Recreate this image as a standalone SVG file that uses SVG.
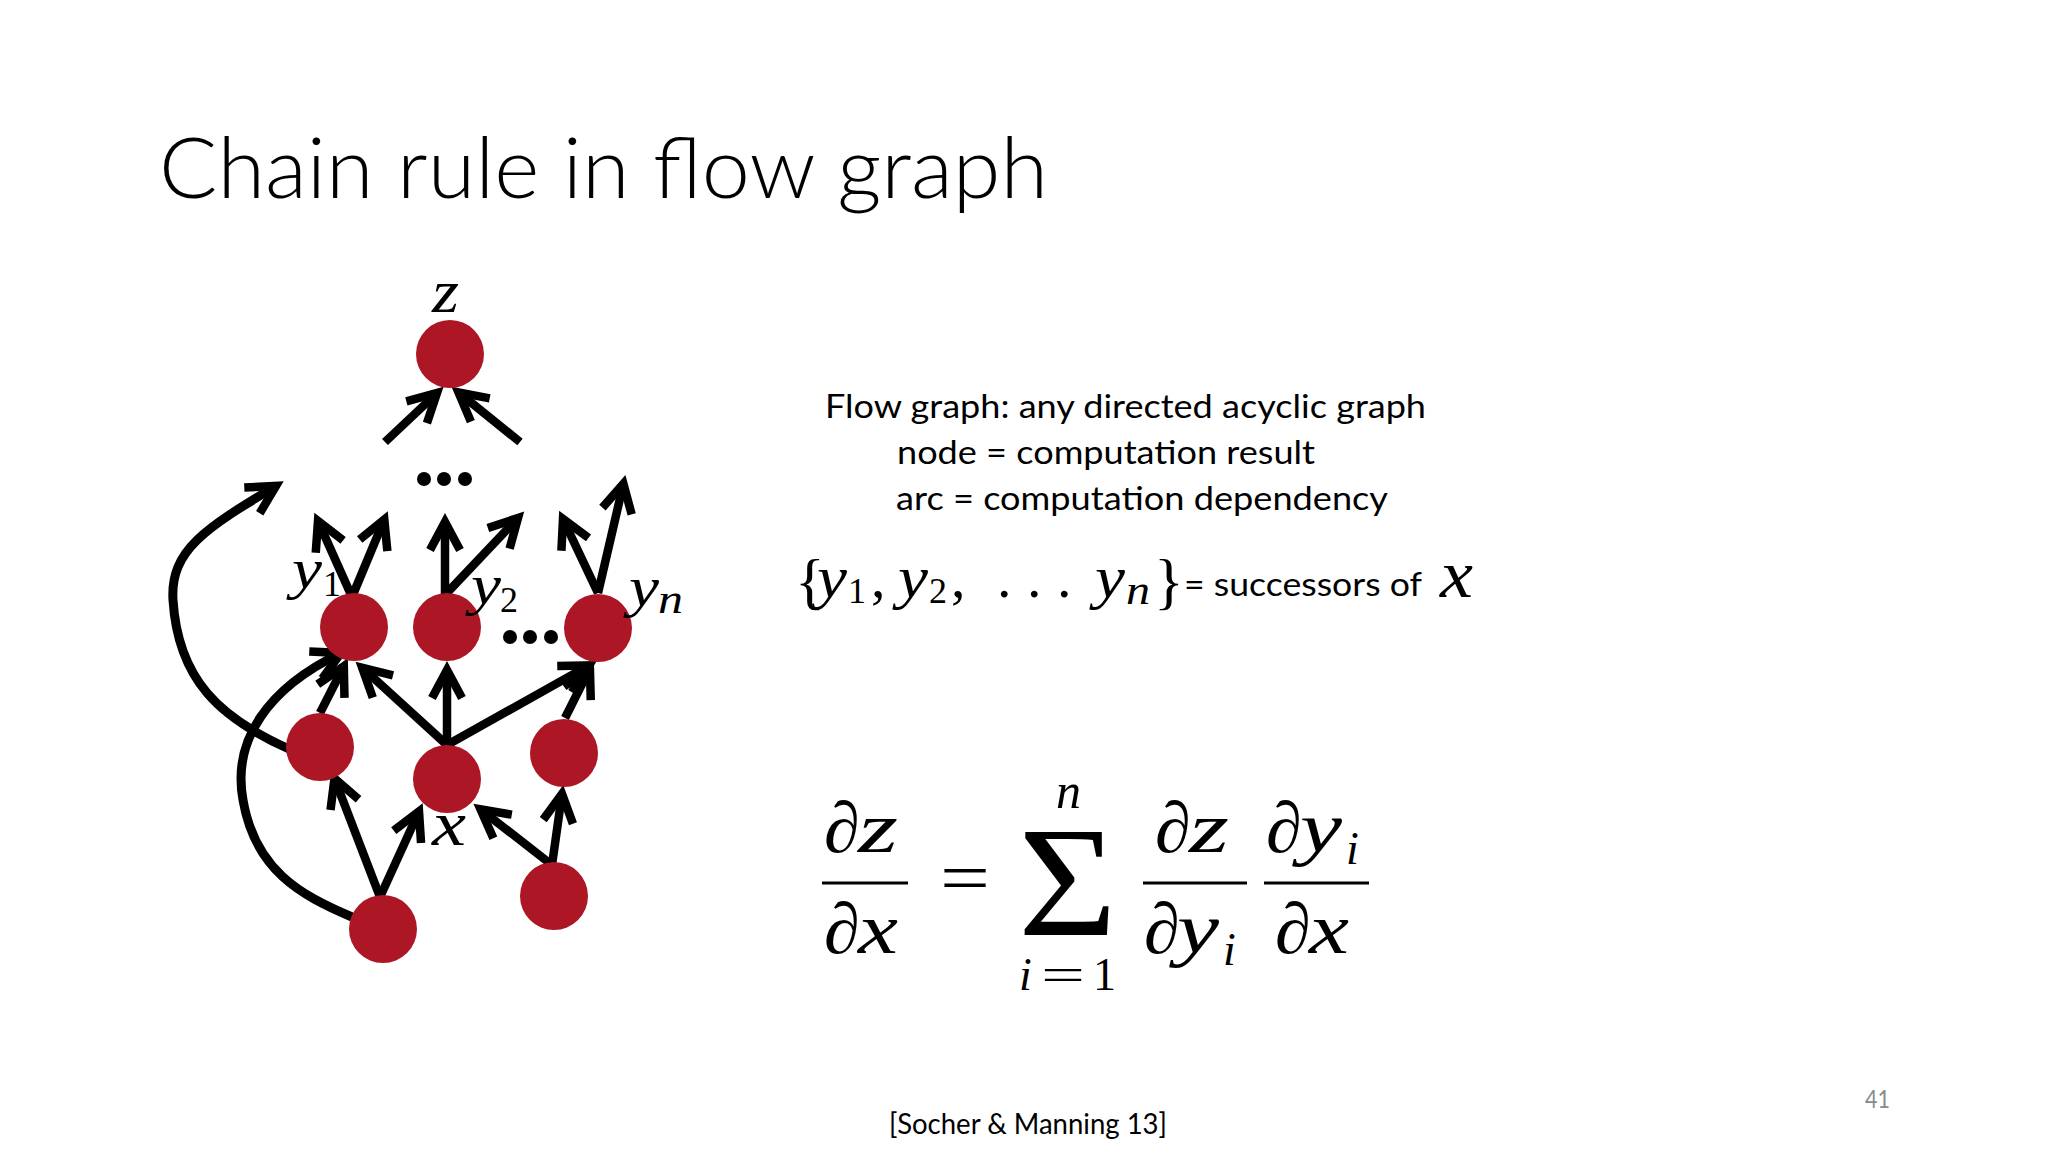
<svg xmlns="http://www.w3.org/2000/svg" width="2048" height="1152" viewBox="0 0 2048 1152">
<defs>
<style>
.bg{fill:#ffffff}
.title{font-family:Lato,"Open Sans","Liberation Sans",sans-serif;font-weight:300;font-size:85px;fill:#000}
.body{font-family:Lato,"Open Sans","Liberation Sans",sans-serif;font-size:33px;fill:#000}
.foot{font-family:Lato,"Open Sans","Liberation Sans",sans-serif;font-size:29px;fill:#000}
.pg{font-family:Lato,"Open Sans","Liberation Sans",sans-serif;font-size:25px;fill:#8a8a8a}
.mi{font-family:"Liberation Serif","DejaVu Serif",serif;font-style:italic;fill:#000}
.mu{font-family:"Liberation Serif","DejaVu Serif",serif;font-style:normal;fill:#000}
.node{fill:#ac1625}
.dot{fill:#000}
.edge{fill:none;stroke:#000;stroke-width:8.5;marker-end:url(#ah)}
.curve{fill:none;stroke:#000;stroke-width:9;marker-end:url(#ah)}
.bar{stroke:#000;stroke-width:3}
</style>
<marker id="ah" markerUnits="userSpaceOnUse" markerWidth="80" markerHeight="80" viewBox="-40 -40 80 80" refX="0" refY="0" orient="auto" overflow="visible">
<path d="M -28,-15 L 0,0 L -28,15" fill="none" stroke="#000" stroke-width="8.5" stroke-linejoin="miter" stroke-miterlimit="4"/>
</marker>
</defs>
<rect class="bg" x="0" y="0" width="2048" height="1152"/>

<text class="title" x="159" y="198" textLength="889" lengthAdjust="spacingAndGlyphs">Chain rule in flow graph</text>

<g id="connectors">
<path class="edge" d="M385,442 L437,393"/>
<path class="edge" d="M520,442 L458.5,392.4"/>
<path class="edge" d="M352,597 L318,521"/>
<path class="edge" d="M352,597 L384.3,519.5"/>
<path class="edge" d="M445,595 L445,522"/>
<path class="edge" d="M445,595 L518,518"/>
<path class="edge" d="M598,593 L563,519"/>
<path class="edge" d="M598,593 L623.4,483.8"/>
<path class="curve" d="M289,749 C220,718 178,680 173,600 C170,550 206,528 276,486"/>
<path class="curve" d="M352,917 C300,895 255,870 243,800 C232,740 268,688 341,653"/>
<path class="edge" d="M320,713 L343.8,666.2"/>
<path class="edge" d="M447,745 L362.2,667.7"/>
<path class="edge" d="M447,745 L447,670"/>
<path class="edge" d="M447,745 L589,665.4"/>
<path class="edge" d="M565,718 L589.9,668.3"/>
<path class="edge" d="M380,897 L334.5,778.5"/>
<path class="edge" d="M380,897 L419,811.4"/>
<path class="edge" d="M552,865 L480.5,809.3"/>
<path class="edge" d="M552,865 L562,794"/>
</g>

<g id="node-z">
<circle class="node" cx="450" cy="354" r="34"/>
<text class="mi" x="432" y="312" font-size="62" textLength="27" lengthAdjust="spacingAndGlyphs">z</text>
</g>
<g id="node-y1">
<circle class="node" cx="354" cy="627" r="34"/>
<text class="mi" x="292" y="588" font-size="58" textLength="30" lengthAdjust="spacingAndGlyphs">y</text>
<text class="mu" x="323" y="596" font-size="36">1</text>
</g>
<g id="node-y2">
<circle class="node" cx="447" cy="627" r="34"/>
<text class="mi" x="471" y="604" font-size="58" textLength="30" lengthAdjust="spacingAndGlyphs">y</text>
<text class="mu" x="500" y="612" font-size="36">2</text>
</g>
<g id="node-yn">
<circle class="node" cx="598" cy="628" r="34"/>
<text class="mi" x="629" y="606" font-size="58" textLength="30" lengthAdjust="spacingAndGlyphs">y</text>
<text class="mi" x="658" y="613" font-size="40" textLength="25" lengthAdjust="spacingAndGlyphs">n</text>
</g>
<g id="node-left-mid">
<circle class="node" cx="320" cy="747" r="34"/>
</g>
<g id="node-x">
<circle class="node" cx="447" cy="779" r="34"/>
<text class="mi" x="432" y="845" font-size="64" textLength="34" lengthAdjust="spacingAndGlyphs">x</text>
</g>
<g id="node-right-mid">
<circle class="node" cx="564" cy="753" r="34"/>
</g>
<g id="node-bottom-left">
<circle class="node" cx="383" cy="929" r="34"/>
</g>
<g id="node-bottom-right">
<circle class="node" cx="554" cy="896" r="34"/>
</g>
<g id="ellipsis-top">
<circle class="dot" cx="424" cy="479" r="7"/>
<circle class="dot" cx="444" cy="479" r="7"/>
<circle class="dot" cx="465" cy="479" r="7"/>
</g>
<g id="ellipsis-mid">
<circle class="dot" cx="510" cy="637" r="7"/>
<circle class="dot" cx="530" cy="637" r="7"/>
<circle class="dot" cx="551" cy="637" r="7"/>
</g>

<text class="body" x="825" y="418" textLength="601" lengthAdjust="spacingAndGlyphs">Flow graph: any directed acyclic graph</text>
<text class="body" x="897" y="464" textLength="418" lengthAdjust="spacingAndGlyphs">node = computation result</text>
<text class="body" x="896" y="510" textLength="492" lengthAdjust="spacingAndGlyphs">arc = computation dependency</text>

<g id="successors">
<text class="mu" x="795" y="602" font-size="62">{</text>
<text class="mi" x="817" y="597" font-size="60" textLength="30" lengthAdjust="spacingAndGlyphs">y</text>
<text class="mu" x="848" y="603" font-size="36">1</text>
<text class="mu" x="871" y="597" font-size="58">,</text>
<text class="mi" x="898" y="597" font-size="60" textLength="30" lengthAdjust="spacingAndGlyphs">y</text>
<text class="mu" x="929" y="603" font-size="36">2</text>
<text class="mu" x="951" y="597" font-size="58">,</text>
<text class="mu" x="997" y="597" font-size="58">.</text>
<text class="mu" x="1027" y="597" font-size="58">.</text>
<text class="mu" x="1057" y="597" font-size="58">.</text>
<text class="mi" x="1095" y="597" font-size="60" textLength="30" lengthAdjust="spacingAndGlyphs">y</text>
<text class="mi" x="1126" y="604" font-size="40" textLength="24" lengthAdjust="spacingAndGlyphs">n</text>
<text class="mu" x="1154" y="602" font-size="62">}</text>
<text class="body" x="1184" y="596" textLength="238" lengthAdjust="spacingAndGlyphs">= successors of</text>
<text class="mi" x="1440" y="597" font-size="68" textLength="33" lengthAdjust="spacingAndGlyphs">x</text>
</g>

<g id="formula">
<text class="mi" x="824" y="852" font-size="72">∂</text>
<text class="mi" x="858" y="852" font-size="72" textLength="40" lengthAdjust="spacingAndGlyphs">z</text>
<line class="bar" x1="822" y1="883" x2="908" y2="883"/>
<text class="mi" x="824" y="953" font-size="72">∂</text>
<text class="mi" x="858" y="953" font-size="72" textLength="40" lengthAdjust="spacingAndGlyphs">x</text>
<text class="mu" x="940" y="902" font-size="72" textLength="50" lengthAdjust="spacingAndGlyphs">=</text>
<text class="mu" x="1018" y="935" font-size="156" textLength="99" lengthAdjust="spacingAndGlyphs">Σ</text>
<text class="mi" x="1056" y="808" font-size="50">n</text>
<text class="mu" y="990" font-size="46"><tspan class="mi" x="1019">i</tspan><tspan x="1041" textLength="44" lengthAdjust="spacingAndGlyphs">=</tspan><tspan x="1093">1</tspan></text>
<text class="mi" x="1155" y="852" font-size="72">∂</text>
<text class="mi" x="1189" y="852" font-size="72" textLength="40" lengthAdjust="spacingAndGlyphs">z</text>
<line class="bar" x1="1143" y1="883" x2="1247" y2="883"/>
<text class="mi" y="953" font-size="72"><tspan x="1144">∂</tspan><tspan x="1177" textLength="42" lengthAdjust="spacingAndGlyphs">y</tspan><tspan x="1223" y="965" font-size="46">i</tspan></text>
<text class="mi" y="852" font-size="72"><tspan x="1266">∂</tspan><tspan x="1300" textLength="42" lengthAdjust="spacingAndGlyphs">y</tspan><tspan x="1346" y="864" font-size="46">i</tspan></text>
<line class="bar" x1="1264" y1="883" x2="1369" y2="883"/>
<text class="mi" x="1275" y="953" font-size="72">∂</text>
<text class="mi" x="1309" y="953" font-size="72" textLength="40" lengthAdjust="spacingAndGlyphs">x</text>
</g>

<text class="foot" x="889" y="1134" textLength="278" lengthAdjust="spacingAndGlyphs">[Socher &amp; Manning 13]</text>
<text class="pg" x="1865" y="1108" textLength="25" lengthAdjust="spacingAndGlyphs">41</text>
</svg>
